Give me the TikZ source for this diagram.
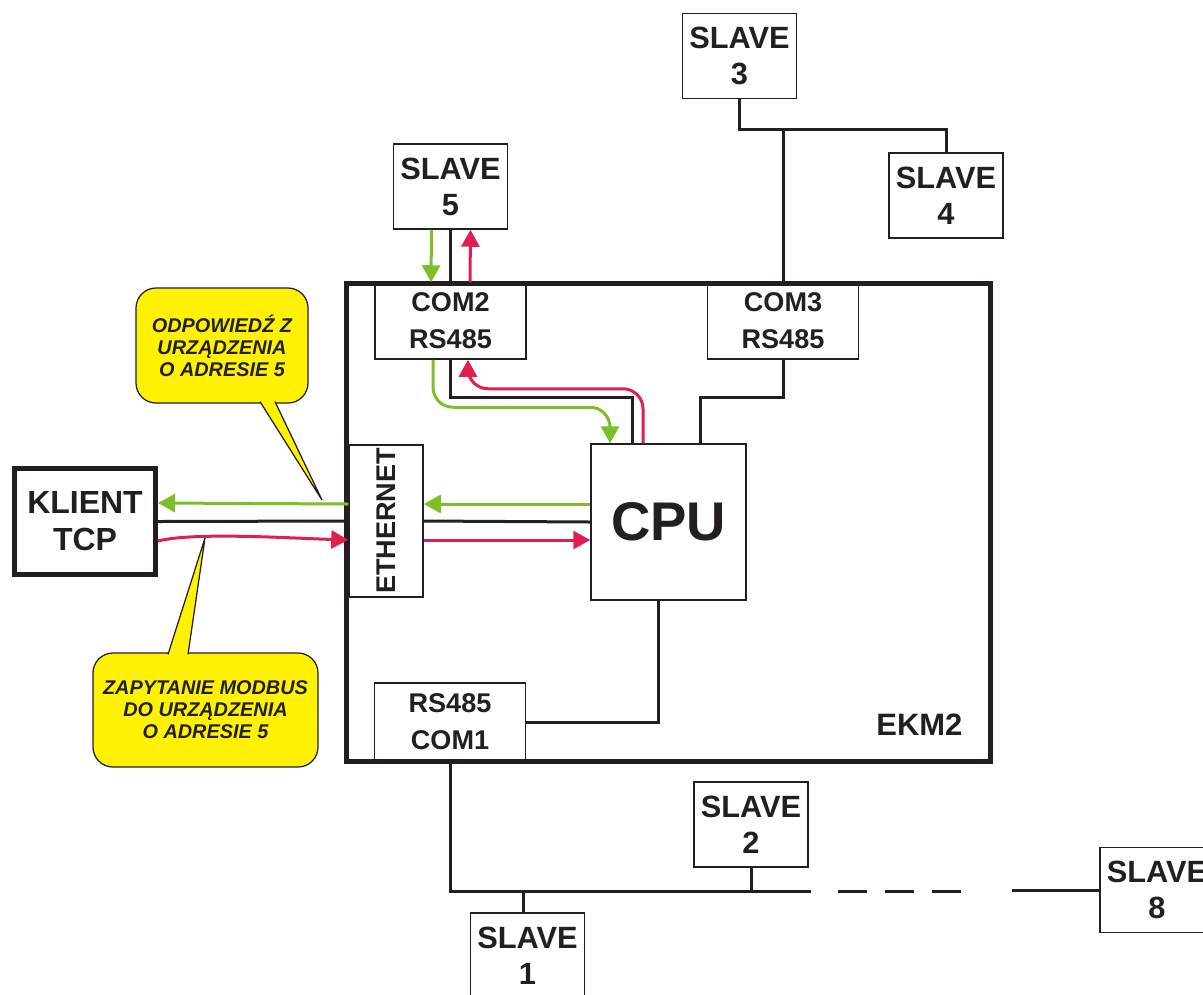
\documentclass[tikz,border=0pt]{standalone}
\usepackage{fontspec}
\setmainfont{Liberation Sans}
\usepackage{tikz}
\usetikzlibrary{arrows.meta,positioning,calc}
\definecolor{okgreen}{RGB}{126,190,40}
\definecolor{reqred}{RGB}{225,30,82}
\definecolor{noteyellow}{RGB}{255,242,0}
\definecolor{ink}{RGB}{35,31,32}

\begin{document}
\begin{tikzpicture}[
    x=0.2mm, y=-0.2mm,
    every node/.style={text=ink},
    slave/.style={rectangle, draw=ink, line width=0.3mm, minimum width=22.8mm, minimum height=17mm, inner sep=0pt, align=center, font=\fontsize{17.5}{20.5}\selectfont\bfseries},
    port/.style={rectangle, draw=ink, line width=0.3mm, minimum width=30.2mm, minimum height=15.2mm, inner sep=0pt, align=center, font=\fontsize{15.4}{21}\selectfont\bfseries},
    frame/.style={rectangle, draw=ink, line width=1mm, inner sep=0pt},
    wire/.style={draw=ink, line width=0.6mm},
    garrow/.style={-{Triangle[length=3.4mm, width=3.6mm]}, okgreen, line width=0.6mm},
    rarrow/.style={-{Triangle[length=3.4mm, width=3.6mm]}, reqred, line width=0.6mm},
    bubble/.style={rectangle, draw=ink, line width=0.25mm, fill=noteyellow, rounded corners=4mm, inner sep=0pt, align=center, font=\fontsize{11.3}{12.5}\selectfont\bfseries\itshape},
    tail/.style={fill=noteyellow, draw=ink, line width=0.25mm},
]
\useasboundingbox (0,0) rectangle (1203,994);

% EKM2 module
\node[frame, minimum width=128.8mm, minimum height=95.6mm] (ekm) at (668,522) {};
\node[font=\fontsize{17.6}{20}\selectfont\bfseries, anchor=base east] (ekmname) at ($(ekm.south east)+(-24,-28)$) {EKM2};

% Ports and CPU
\node[port] (com2) at (450.5,321) {COM2\\RS485};
\node[port] (com3) at (783,321) {COM3\\RS485};
\node[port, minimum height=15.6mm] (com1) at (450,722) {RS485\\COM1};
\node[draw=ink, line width=0.3mm, minimum width=31mm, minimum height=31.2mm, font=\fontsize{31}{31}\selectfont\bfseries] (cpu) at (668.5,522) {CPU};
\node[draw=ink, line width=0.3mm, minimum width=14.8mm, minimum height=30.4mm] (eth) at (386,521) {};
\node[rotate=90, font=\fontsize{15.4}{16}\selectfont\bfseries] (ethname) at (eth) {ETHERNET};

% Client
\node[draw=ink, line width=1mm, minimum width=28.2mm, minimum height=21.2mm, align=center, font=\fontsize{18.2}{21}\selectfont\bfseries] (klient) at (85,521.5) {KLIENT\\TCP};

% Slaves
\node[slave] (slave3) at (739.5,56) {SLAVE\\3};
\node[slave] (slave4) at (946,195.5) {SLAVE\\4};
\node[slave, above=10.5mm of com2] (slave5) {SLAVE\\5};
\node[slave] (slave2) at (751,824.5) {SLAVE\\2};
\node[slave] (slave1) at (527.5,955.5) {SLAVE\\1};
\node[slave] (slave8) at (1157,890) {SLAVE\\8};

% COM3 line
\coordinate (tap3) at ($(com3.north)+(0,-153)$);
\draw[wire] (com3.north) -- (tap3);
\draw[wire] (slave3.south) |- (tap3) -| (slave4.north);
\draw[wire] (com3.south) |- ($(cpu.north)+(31.5,-46)$) -- ($(cpu.north)+(31.5,0)$);

% COM1 line
\coordinate (bus1) at ($(com1.south)+(0,130)$);
\coordinate (busend) at ($(bus1)+(361,0)$);
\draw[wire] ($(cpu.south)+(-10.5,0)$) |- (com1.east);
\draw[wire] (com1.south) -- (bus1) -- (busend);
\draw[wire] (slave2.south) -- (slave2.south |- bus1);
\draw[wire] ($(slave1.north)+(-4.5,0)$) -- ($(slave1.north |- bus1)+(-4.5,0)$);
\draw[wire, dash pattern=on 5.8mm off 3.6mm] ($(busend)+(27,0)$) -- ($(busend)+(155,0)$);
\draw[wire] ($(slave8.west)+(-87,0)$) -- (slave8.west);

% Callouts
\node[bubble, minimum width=34.4mm, minimum height=23mm] (answer) at (222,345.5) {ODPOWIEDŹ Z\\URZĄDZENIA\\O ADRESIE 5};
\coordinate (answertip) at (322,500);
\path[tail] ($(answer.south)+(38,-2)$) -- (answertip) -- ($(answer.south)+(53,-2)$);

\node[bubble, minimum width=45mm, minimum height=22.8mm] (query) at (205.5,710) {ZAPYTANIE MODBUS\\DO URZĄDZENIA\\O ADRESIE 5};
\coordinate (querytip) at (205,538);
\path[tail] ($(query.north)+(-37.5,2)$) -- (querytip) -- ($(query.north)+(-17.5,2)$);

% COM2 / SLAVE 5
\draw[wire] (slave5.south) -- (com2.north);
\draw[garrow] ($(slave5.south)+(-19,0)$) -- ($(com2.north)+(-19.5,0)$);
\draw[rarrow] ($(com2.north)+(19.5,0)$) -- ($(slave5.south)+(20,0)$);
\draw[wire] (com2.south) |- ($(cpu.north)+(-36.5,-46)$) -- ($(cpu.north)+(-36.5,0)$);
\draw[garrow, rounded corners=4mm] ($(com2.south)+(-17.5,0)$) |- ($(cpu.north)+(-58.5,-36)$) -- ($(cpu.north)+(-58.5,0)$);
\draw[rarrow, rounded corners=4mm] ($(cpu.north)+(-25.5,0)$) |- ($(com2.south)+(17.5,29)$) -- ($(com2.south)+(17.5,0)$);

% Ethernet
\draw[wire] (klient.east) -- (eth.west);
\draw[wire] (eth.east) -- (cpu.west);
\draw[garrow] ($(cpu.west)+(0,-18)$) -- ($(eth.east)+(0,-17)$);
\draw[rarrow] ($(eth.east)+(0,19)$) -- ($(cpu.west)+(0,18)$);
\draw[garrow] ($(eth.west)+(0,-17)$) -- ($(klient.east)+(0,-18.5)$);
\draw[rarrow] ($(klient.east)+(0,19.5)$) .. controls +(35,-9) and +(-60,-2) .. ($(eth.west)+(0,19)$);

\end{tikzpicture}
\end{document}
